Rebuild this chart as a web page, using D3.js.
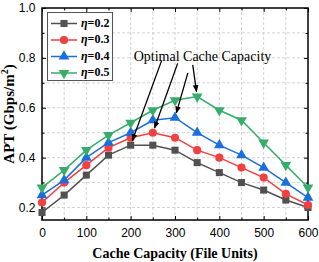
<!DOCTYPE html>
<html>
<head>
<meta charset="utf-8">
<script src="https://cdn.jsdelivr.net/npm/d3@7"></script>
<style>
  html, body { margin: 0; padding: 0; background: #fff; }
  svg { display: block; }
  .tick-label { font-family: "Liberation Sans", Arial, sans-serif; font-size: 12px; fill: #000; }
  .serif { font-family: "Liberation Serif", "Times New Roman", serif; }
</style>
</head>
<body>
<div id="chart"></div>
<script>
// === data ===
const capacity = [0, 50, 100, 150, 200, 250, 300, 350, 400, 450, 500, 550, 600];
const etaLabels = ["0.2", "0.3", "0.4", "0.5"];
const apt02 = [0.18, 0.25, 0.33, 0.41, 0.45, 0.45, 0.43, 0.38, 0.34, 0.30, 0.27, 0.23, 0.20];
const apt03 = [0.22, 0.30, 0.37, 0.44, 0.48, 0.50, 0.48, 0.43, 0.40, 0.36, 0.32, 0.255, 0.21];
const apt04 = [0.25, 0.31, 0.40, 0.46, 0.50, 0.55, 0.56, 0.50, 0.45, 0.41, 0.36, 0.30, 0.24];
const apt05 = [0.28, 0.35, 0.43, 0.49, 0.54, 0.59, 0.63, 0.645, 0.59, 0.55, 0.46, 0.37, 0.28];
const xTicks = [0, 100, 200, 300, 400, 500, 600];
const yTicks = [0.2, 0.4, 0.6, 0.8, 1.0];
const annotationText = "Optimal Cache Capacity";
// where each arrow leaves the annotation text (data units), one per series
const arrowStarts = [[270, 0.79], [306, 0.778], [329, 0.74], [340, 0.772]];

const series = [apt02, apt03, apt04, apt05];
const colors = ["#515151", "#F14040", "#1A6FDF", "#37AD6B"];
const shapes = [d3.symbolSquare, d3.symbolCircle, d3.symbolTriangle, d3.symbolTriangle];

const width = 319, height = 262;
const margin = { top: 8, right: 11, bottom: 42, left: 42 };

const svg = d3.select("#chart").append("svg")
  .attr("width", width).attr("height", height);

const x = d3.scaleLinear().domain([0, 600]).range([margin.left, width - margin.right]);
const y = d3.scaleLinear().domain([0.15, 1.0]).range([height - margin.bottom, margin.top]);

// grid (dashed, every 50 / every 0.1)
const grid = svg.append("g");
grid.selectAll("line.gx").data(d3.range(50, 600, 50)).enter().append("line")
  .attr("x1", d => x(d)).attr("x2", d => x(d))
  .attr("y1", y.range()[0]).attr("y2", y.range()[1])
  .attr("stroke", "#c8c8c8").attr("stroke-width", 0.8).attr("stroke-dasharray", "3,2");
grid.selectAll("line.gy").data(d3.range(0.2, 1.0, 0.1)).enter().append("line")
  .attr("y1", d => y(d)).attr("y2", d => y(d))
  .attr("x1", x.range()[0]).attr("x2", x.range()[1])
  .attr("stroke", "#c8c8c8").attr("stroke-width", 0.8).attr("stroke-dasharray", "3,2");

// axes: ticks pointing inward on all four sides
const minorX = d3.range(0, 601, 50);
const minorY = d3.range(0.2, 1.01, 0.1).map(v => +v.toFixed(2));

const axBottom = svg.append("g").attr("transform", `translate(0,${y.range()[0]})`)
  .call(d3.axisBottom(x).tickValues(minorX).tickSizeInner(-4).tickSizeOuter(0)
    .tickFormat(d => xTicks.includes(d) ? d : ""));
axBottom.selectAll("text").attr("class", "tick-label").attr("dy", "1.2em");
axBottom.selectAll(".tick line").attr("y2", d => xTicks.includes(d) ? -4 : -2.5);

const axTop = svg.append("g").attr("transform", `translate(0,${y.range()[1]})`)
  .call(d3.axisTop(x).tickValues(minorX).tickSizeInner(-4).tickSizeOuter(0).tickFormat(""));
axTop.selectAll(".tick line").attr("y2", d => xTicks.includes(d) ? 4 : 2.5);

const isMajorY = d => yTicks.some(t => Math.abs(t - d) < 1e-6);
const axLeft = svg.append("g").attr("transform", `translate(${x.range()[0]},0)`)
  .call(d3.axisLeft(y).tickValues(minorY).tickSizeInner(-4).tickSizeOuter(0)
    .tickFormat(d => isMajorY(d) ? d3.format(".1f")(d) : ""));
axLeft.selectAll("text").attr("class", "tick-label").attr("dx", "-0.3em");
axLeft.selectAll(".tick line").attr("x2", d => isMajorY(d) ? 4 : 2.5);

const axRight = svg.append("g").attr("transform", `translate(${x.range()[1]},0)`)
  .call(d3.axisRight(y).tickValues(minorY).tickSizeInner(-4).tickSizeOuter(0).tickFormat(""));
axRight.selectAll(".tick line").attr("x2", d => isMajorY(d) ? -4 : -2.5);

svg.selectAll(".domain").remove();
svg.selectAll(".tick line").attr("stroke", "#000").attr("stroke-width", 1);

// frame
svg.append("rect")
  .attr("x", x.range()[0]).attr("y", y.range()[1])
  .attr("width", x.range()[1] - x.range()[0]).attr("height", y.range()[0] - y.range()[1])
  .attr("fill", "none").attr("stroke", "#000").attr("stroke-width", 1.5);

// lines + markers
const line = d3.line().x((d, i) => x(capacity[i])).y(d => y(d));
const symbolFor = i => d3.symbol().type(shapes[i]).size(i === 1 ? 52 : 50);

series.forEach((vals, i) => {
  const g = svg.append("g");
  g.append("path").datum(vals).attr("d", line)
    .attr("fill", "none").attr("stroke", colors[i]).attr("stroke-width", 1.5);
  g.selectAll("path.m").data(vals).enter().append("path")
    .attr("class", "m")
    .attr("d", symbolFor(i))
    .attr("transform", (d, j) => `translate(${x(capacity[j])},${y(d)})${i === 3 ? " rotate(180)" : ""}`)
    .attr("fill", colors[i]);
});

// annotation
svg.append("text").attr("class", "serif")
  .attr("x", x(362)).attr("y", y(0.80))
  .attr("text-anchor", "middle").attr("dominant-baseline", "middle")
  .attr("font-size", 14).text(annotationText);

svg.append("defs").append("marker")
  .attr("id", "ah").attr("viewBox", "0 0 10 10").attr("refX", 9).attr("refY", 5)
  .attr("markerWidth", 5.5).attr("markerHeight", 5.5).attr("orient", "auto")
  .append("path").attr("d", "M0,1 L10,5 L0,9 Z").attr("fill", "#000");

series.forEach((vals, i) => {
  const k = vals.indexOf(d3.max(vals));
  const tx = x(capacity[k]), ty = y(vals[k]);
  const sx = x(arrowStarts[i][0]), sy = y(arrowStarts[i][1]);
  const len = Math.hypot(tx - sx, ty - sy);
  const back = 5;
  svg.append("line")
    .attr("x1", sx).attr("y1", sy)
    .attr("x2", tx - (tx - sx) / len * back).attr("y2", ty - (ty - sy) / len * back)
    .attr("stroke", "#000").attr("stroke-width", 1.3)
    .attr("marker-end", "url(#ah)");
});

// legend
const lg = svg.append("g");
lg.append("rect").attr("x", 47.5).attr("y", 12.5).attr("width", 65).attr("height", 68)
  .attr("fill", "#fff").attr("stroke", "#555").attr("stroke-width", 1);
etaLabels.forEach((lab, i) => {
  const cy = 23.5 + i * 16.5;
  lg.append("line").attr("x1", 51).attr("x2", 77).attr("y1", cy).attr("y2", cy)
    .attr("stroke", colors[i]).attr("stroke-width", 1.5);
  lg.append("path").attr("d", symbolFor(i))
    .attr("transform", `translate(64,${cy})${i === 3 ? " rotate(180)" : ""}`)
    .attr("fill", colors[i]);
  const t = lg.append("text").attr("class", "serif").attr("x", 81).attr("y", cy)
    .attr("dominant-baseline", "middle").attr("font-size", 12).attr("font-weight", "bold");
  t.append("tspan").attr("font-style", "italic").text("η");
  t.append("tspan").text("=" + lab);
});

// axis titles
svg.append("text").attr("class", "serif")
  .attr("x", (x.range()[0] + x.range()[1]) / 2).attr("y", 258)
  .attr("text-anchor", "middle").attr("font-size", 14).attr("font-weight", "bold")
  .text("Cache Capacity (File Units)");

const yt = svg.append("text").attr("class", "serif")
  .attr("transform", `translate(14,${(y.range()[0] + y.range()[1]) / 2}) rotate(-90)`)
  .attr("text-anchor", "middle").attr("font-size", 15).attr("font-weight", "bold");
yt.append("tspan").text("APT (Gbps/m");
yt.append("tspan").attr("font-size", 10).attr("dy", -6).text("2");
yt.append("tspan").attr("dy", 6).text(")");
</script>
</body>
</html>
